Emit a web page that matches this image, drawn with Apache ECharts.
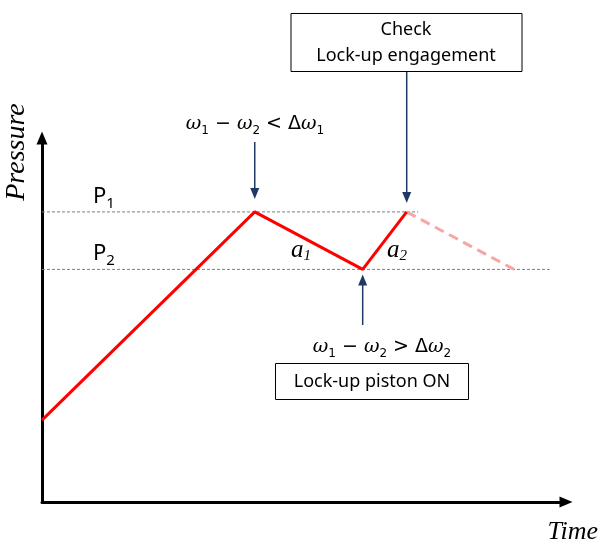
<!DOCTYPE html>
<html>
<head>
    <meta charset="utf-8">
    <title>Lock-up pressure</title>
    <script src="https://cdn.jsdelivr.net/npm/echarts@6/dist/echarts.min.js"></script>
</head>
<body style="margin:0;background:#fff;">
<div id="main" style="width:598px;height:543px;"></div>

<script type="text/javascript">
    // values (time 0-100, pressure 0-100)
    var P1 = 79.7;
    var P2 = 63.9;
    var rampTime = [0, 40.6, 61.2, 69.6];
    var rampPressure = [22.5, P1, P2, P1];
    var releaseTime = [69.6, 90.1];
    var releasePressure = [P1, P2];
    var p1LineEnd = 71.8;
    var p2LineEnd = 96.9;

    var navy = '#203864';
    var chart = echarts.init(document.getElementById('main'));

    var pairs = function (xs, ys) {
        var out = [];
        for (var i = 0; i < xs.length; i++) {
            out.push([xs[i], ys[i]]);
        }
        return out;
    };

    var axisCommon = {
        type: 'value',
        min: 0,
        max: 100,
        axisLine: {
            show: true,
            symbol: ['none', 'triangle'],
            symbolSize: [11, 13],
            lineStyle: {color: '#000', width: 3}
        },
        axisTick: {show: false},
        axisLabel: {show: false},
        splitLine: {show: false}
    };

    var option = {
        animation: false,
        grid: {left: 42, right: 32, top: 138, bottom: 41},
        xAxis: axisCommon,
        yAxis: axisCommon,
        series: [
            {
                // P1 level
                type: 'line',
                symbol: 'none',
                data: [[0, P1], [p1LineEnd, P1]],
                lineStyle: {color: '#7f7f7f', width: 1, type: [3, 2]},
                z: 1
            },
            {
                // P2 level
                type: 'line',
                symbol: 'none',
                data: [[0, P2], [p2LineEnd, P2]],
                lineStyle: {color: '#7f7f7f', width: 1, type: [3, 2]},
                z: 1
            },
            {
                type: 'line',
                symbol: 'none',
                data: pairs(releaseTime, releasePressure),
                lineStyle: {color: '#f8a5a5', width: 3, type: [10, 6]},
                z: 2
            },
            {
                type: 'line',
                symbol: 'none',
                data: pairs(rampTime, rampPressure),
                lineStyle: {color: '#ff0000', width: 3},
                z: 3
            }
        ]
    };
    chart.setOption(option);

    // arrows are hung on the data points
    var px = function (t, p) {
        return chart.convertToPixel({gridIndex: 0}, [t, p]);
    };
    var arrow = function (x, y0, y1) {
        var dir = y1 > y0 ? 1 : -1;
        return [
            {
                type: 'line',
                shape: {x1: x, y1: y0, x2: x, y2: y1 - dir * 10},
                style: {stroke: navy, lineWidth: 1.5}
            },
            {
                type: 'polygon',
                shape: {points: [[x - 4.5, y1 - dir * 11], [x + 4.5, y1 - dir * 11], [x, y1]]},
                style: {fill: navy}
            }
        ];
    };

    var peak1 = px(rampTime[1], rampPressure[1]);
    var valley = px(rampTime[2], rampPressure[2]);
    var peak2 = px(rampTime[3], rampPressure[3]);

    var mathRich = {
        w: {fontFamily: 'DejaVu Serif', fontStyle: 'italic', fontSize: 19, lineHeight: 26, color: navy},
        s: {fontFamily: 'DejaVu Sans', fontSize: 12, lineHeight: 13, verticalAlign: 'bottom', color: navy},
        o: {fontFamily: 'DejaVu Sans', fontSize: 19, lineHeight: 26, color: navy}
    };
    var aRich = {
        a: {fontFamily: 'Liberation Serif', fontStyle: 'italic', fontSize: 25, lineHeight: 28, color: navy},
        s: {fontFamily: 'Liberation Serif', fontStyle: 'italic', fontSize: 15, lineHeight: 14, verticalAlign: 'bottom', color: navy}
    };
    var pRich = {
        p: {fontFamily: 'Noto Sans', fontSize: 22, lineHeight: 28, color: '#000'},
        s: {fontFamily: 'Noto Sans', fontSize: 15, lineHeight: 17, verticalAlign: 'bottom', color: '#000'}
    };
    var boxFont = '18px "Noto Sans"';

    var graphics = [].concat(
        arrow(peak1[0], 142, peak1[1] - 13),
        arrow(peak2[0], 72, peak2[1] - 9),
        arrow(valley[0], 325, valley[1] + 5),
        [
            {
                type: 'text', x: 17, y: 152, rotation: Math.PI / 2,
                style: {text: 'Pressure', font: 'italic 28px "Liberation Serif"', fill: '#000', align: 'center', verticalAlign: 'middle'}
            },
            {
                type: 'text', x: 598, y: 532,
                style: {text: 'Time', font: 'italic 26px "Liberation Serif"', fill: '#000', align: 'right', verticalAlign: 'middle'}
            },
            {
                type: 'text', x: 93, y: 197,
                style: {text: '{p|P}{s|1}', rich: pRich, align: 'left', verticalAlign: 'middle'}
            },
            {
                type: 'text', x: 93, y: 254,
                style: {text: '{p|P}{s|2}', rich: pRich, align: 'left', verticalAlign: 'middle'}
            },
            {
                type: 'text', x: 301, y: 250,
                style: {text: '{a|a}{s|1}', rich: aRich, align: 'center', verticalAlign: 'middle'}
            },
            {
                type: 'text', x: 397, y: 250,
                style: {text: '{a|a}{s|2}', rich: aRich, align: 'center', verticalAlign: 'middle'}
            },
            {
                type: 'text', x: 255, y: 124,
                style: {text: '{w|ω}{s|1}{o| − }{w|ω}{s|2}{o| < Δ}{w|ω}{s|1}', rich: mathRich, align: 'center', verticalAlign: 'middle'}
            },
            {
                type: 'text', x: 382, y: 347,
                style: {text: '{w|ω}{s|1}{o| − }{w|ω}{s|2}{o| > Δ}{w|ω}{s|2}', rich: mathRich, align: 'center', verticalAlign: 'middle'}
            },
            {
                type: 'rect', shape: {x: 291, y: 13.5, width: 231, height: 58},
                style: {fill: '#fff', stroke: '#000', lineWidth: 1}
            },
            {
                type: 'text', x: 406, y: 30,
                style: {text: 'Check', font: boxFont, fill: '#000', align: 'center', verticalAlign: 'middle'}
            },
            {
                type: 'text', x: 406, y: 56,
                style: {text: 'Lock-up engagement', font: boxFont, fill: '#000', align: 'center', verticalAlign: 'middle'}
            },
            {
                type: 'rect', shape: {x: 275.5, y: 363.5, width: 193, height: 36},
                style: {fill: '#fff', stroke: '#000', lineWidth: 1}
            },
            {
                type: 'text', x: 372, y: 382,
                style: {text: 'Lock-up piston ON', font: boxFont, fill: '#000', align: 'center', verticalAlign: 'middle'}
            }
        ]
    );

    chart.setOption({graphic: graphics});
</script>
</body>
</html>
